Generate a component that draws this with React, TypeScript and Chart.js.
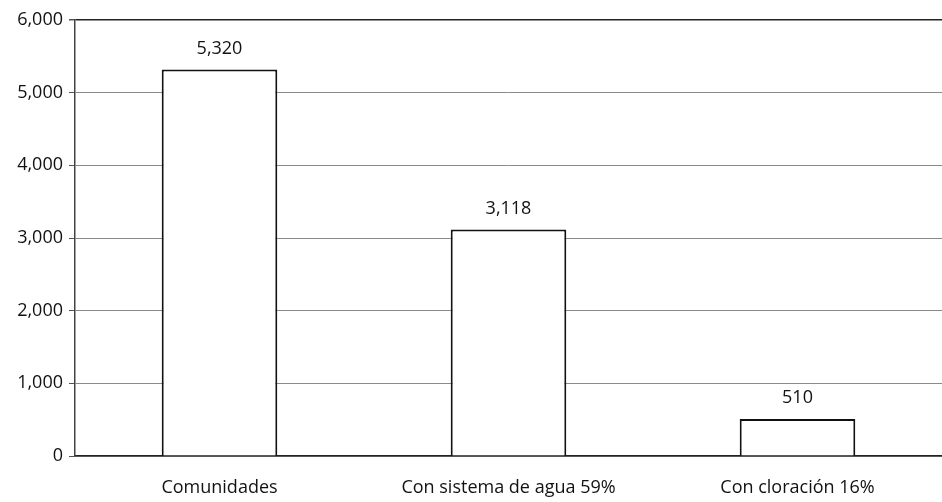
import React, { useEffect, useRef } from "react";
import { Chart, registerables } from "chart.js";

Chart.register(...registerables);

const categories = ["Comunidades", "Con sistema de agua 59%", "Con cloración 16%"];
const values = [5320, 3118, 510];
const yTicks = [0, 1000, 2000, 3000, 4000, 5000, 6000];

const FONT = "'Open Sans', Lato, sans-serif";
const fmt = (v: number) => v.toLocaleString("en-US");

// Draws the value above each bar
const valueLabels = {
  id: "valueLabels",
  afterDatasetsDraw(chart: any) {
    const ctx = chart.ctx;
    const meta = chart.getDatasetMeta(0);
    ctx.save();
    ctx.font = `18px ${FONT}`;
    ctx.fillStyle = "#111";
    ctx.textAlign = "center";
    ctx.textBaseline = "bottom";
    meta.data.forEach((bar: any, i: number) => {
      ctx.fillText(fmt(values[i]), bar.x, bar.y - 12);
    });
    ctx.restore();
  },
};

export default function App() {
  const ref = useRef<HTMLCanvasElement>(null);

  useEffect(() => {
    document.body.style.margin = "0";
    const chart = new Chart(ref.current!, {
      type: "bar",
      data: {
        labels: categories,
        datasets: [
          {
            data: values,
            backgroundColor: "#ffffff",
            borderColor: "#111111",
            borderWidth: 2,
            barPercentage: 0.8,
            categoryPercentage: 0.5,
          },
        ],
      },
      options: {
        animation: false,
        responsive: false,
        layout: { padding: { top: 20, right: 0, left: 0, bottom: 0 } },
        plugins: { legend: { display: false }, tooltip: { enabled: false } },
        scales: {
          x: {
            grid: { display: false, drawTicks: false },
            border: { color: "#222", width: 1.5 },
            ticks: {
              color: "#111",
              font: { family: FONT, size: 18 },
              padding: 21,
              maxRotation: 0,
            },
            afterFit(scale: any) {
              scale.height = 46;
            },
          },
          y: {
            min: 0,
            max: 6000,
            afterBuildTicks(scale: any) {
              scale.ticks = yTicks.map((v) => ({ value: v }));
            },
            grid: {
              color: (c: any) => (c.tick && c.tick.value === 6000 ? "#222" : "#8a8a8a"),
              lineWidth: (c: any) => (c.tick && c.tick.value === 6000 ? 1.5 : 1),
              tickLength: 6,
              tickColor: "#555",
            },
            border: { color: "#444", width: 1.5 },
            ticks: {
              color: "#111",
              font: { family: FONT, size: 18 },
              padding: 6,
              callback: (v: any) => fmt(Number(v)),
            },
            afterFit(scale: any) {
              scale.width = 75;
            },
          },
        },
      },
      plugins: [valueLabels],
    });
    return () => chart.destroy();
  }, []);

  return <canvas ref={ref} width={942} height={502} />;
}
